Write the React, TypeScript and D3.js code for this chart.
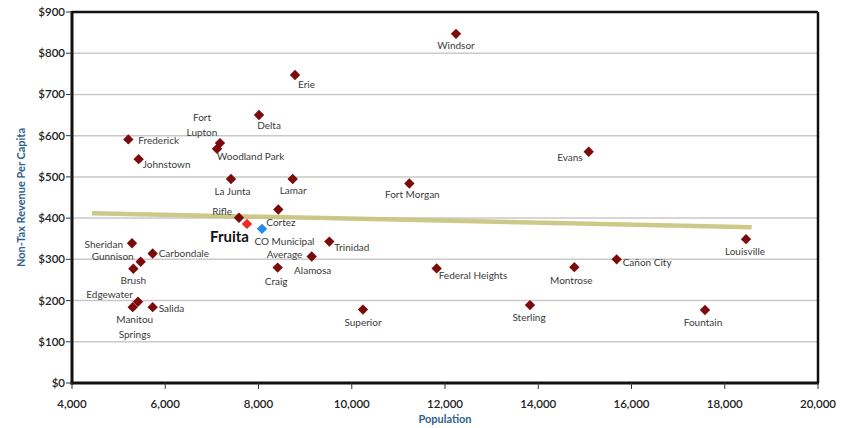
import React from "react";
import * as d3 from "d3";

// ---- data ----
const cities = [
  "Windsor", "Erie", "Delta", "Fort Lupton", "Woodland Park", "Frederick", "Johnstown",
  "La Junta", "Lamar", "Rifle", "Cortez", "Fruita", "CO Municipal Average", "Sheridan",
  "Gunnison", "Carbondale", "Brush", "Edgewater", "Manitou Springs", "Salida", "Trinidad",
  "Alamosa", "Craig", "Superior", "Evans", "Fort Morgan", "Louisville", "Federal Heights",
  "Montrose", "Cañon City", "Sterling", "Fountain",
];
const population = [
  12236, 8783, 8011, 7174, 7110, 5208, 5430,
  7410, 8733, 7582, 8425, 7753, 8075, 5287,
  5473, 5730, 5316, 5415, 5302, 5730, 9519,
  9141, 8411, 10241, 15082, 11235, 18456, 11821,
  14774, 15682, 13823, 17576,
];
const revenue = [
  847, 747, 650, 582, 568, 591, 543,
  495, 495, 401, 421, 386, 374, 339,
  294, 314, 277, 197, 184, 184, 343,
  307, 280, 178, 561, 484, 349, 278,
  281, 300, 189, 177,
];
const trendPopulation = [4429, 18578];
const trendRevenue = [412, 378];
const xTicks = [4000, 6000, 8000, 10000, 12000, 14000, 16000, 18000, 20000];
const yTicks = [0, 100, 200, 300, 400, 500, 600, 700, 800, 900];
const xTitle = "Population";
const yTitle = "Non-Tax Revenue Per Capita";

// ---- label layout (offsets relative to the marker) ----
type Lab = { dx: number; dy: number[]; anchor: string; lines?: string[] };
const labelLayout: Lab[] = [
  { dx: 0, dy: [15.5], anchor: "middle" },
  { dx: 3, dy: [12.5], anchor: "start" },
  { dx: 10, dy: [13.5], anchor: "middle" },
  { dx: -18, dy: [-21.8, -6.8], anchor: "middle", lines: ["Fort", "Lupton"] },
  { dx: 0, dy: [11.5], anchor: "start" },
  { dx: 10, dy: [4.5], anchor: "start" },
  { dx: 4, dy: [8.5], anchor: "start" },
  { dx: 1.5, dy: [16], anchor: "middle" },
  { dx: 0.5, dy: [15], anchor: "middle" },
  { dx: -7, dy: [-2.5], anchor: "end" },
  { dx: -12, dy: [16.5], anchor: "start" },
  { dx: 2, dy: [18], anchor: "end" },
  { dx: 22.5, dy: [16, 29.5], anchor: "middle", lines: ["CO Municipal", "Average"] },
  { dx: -9, dy: [4.5], anchor: "end" },
  { dx: -7, dy: [-1.5], anchor: "end" },
  { dx: 6, dy: [3.5], anchor: "start" },
  { dx: 0, dy: [15], anchor: "middle" },
  { dx: -5, dy: [-4], anchor: "end" },
  { dx: 2, dy: [16, 30.5], anchor: "middle", lines: ["Manitou", "Springs"] },
  { dx: 6, dy: [5], anchor: "start" },
  { dx: 5, dy: [9], anchor: "start" },
  { dx: 1, dy: [18], anchor: "middle" },
  { dx: -1.5, dy: [17], anchor: "middle" },
  { dx: 0, dy: [16], anchor: "middle" },
  { dx: -6, dy: [9], anchor: "end" },
  { dx: 3, dy: [15], anchor: "middle" },
  { dx: -1, dy: [16], anchor: "middle" },
  { dx: 2, dy: [11], anchor: "start" },
  { dx: -3, dy: [17], anchor: "middle" },
  { dx: 6, dy: [7], anchor: "start" },
  { dx: -1, dy: [15.5], anchor: "middle" },
  { dx: -2, dy: [16], anchor: "middle" },
];

const W = 853;
const H = 428;
const left = 72, right = 818, top = 12, bottom = 383;
const FONT = "Lato, 'Open Sans', sans-serif";

export default function App() {
  const x = d3.scaleLinear().domain([4000, 20000]).range([left, right]);
  const y = d3.scaleLinear().domain([0, 900]).range([bottom, top]);
  const diamond = d3.symbol().type(d3.symbolSquare).size(54)();
  const fmtX = d3.format(",");
  const trend = d3.line<number>()
    .x((_, i) => x(trendPopulation[i]))
    .y((d) => y(d))(trendRevenue);

  return (
    <svg width={W} height={H} style={{ position: "absolute", left: 0, top: 0, background: "#fff" }}>
      {/* gridlines */}
      {yTicks.filter((t) => t > 0 && t < 900).map((t) => (
        <line key={"g" + t} x1={left} x2={right} y1={y(t)} y2={y(t)} stroke="#c9c9c9" strokeWidth={1.5} />
      ))}
      {/* trend line */}
      <path d={trend || ""} stroke="#c8c37c" strokeWidth={4.5} fill="none" opacity={0.9} />
      {/* frame */}
      <line x1={left} x2={right} y1={top} y2={top} stroke="#111" strokeWidth={2.5} />
      <line x1={right} x2={right} y1={top} y2={bottom} stroke="#111" strokeWidth={2.5} />
      <line x1={left} x2={left} y1={top - 1} y2={bottom + 1.5} stroke="#111" strokeWidth={3} />
      <line x1={left - 1.5} x2={right + 1} y1={bottom} y2={bottom} stroke="#111" strokeWidth={3} />
      {/* y ticks */}
      {yTicks.map((t) => (
        <g key={"y" + t}>
          <line x1={left - 6} x2={left} y1={y(t)} y2={y(t)} stroke="#333" strokeWidth={1} />
          <text x={left - 7} y={y(t) + 4} textAnchor="end" fontFamily={FONT} fontSize={11.5} fontWeight={600} fill="#222">
            {"$" + t}
          </text>
        </g>
      ))}
      {/* x ticks */}
      {xTicks.map((t) => (
        <g key={"x" + t}>
          <line x1={x(t)} x2={x(t)} y1={bottom} y2={bottom + 6} stroke="#333" strokeWidth={1} />
          <text x={x(t)} y={bottom + 25} textAnchor="middle" fontFamily={FONT} fontSize={11.5} fontWeight={600} fill="#222">
            {fmtX(t)}
          </text>
        </g>
      ))}
      {/* axis titles */}
      <text x={(left + right) / 2} y={423} textAnchor="middle" fontFamily={FONT} fontSize={11} fontWeight="bold" fill="#2f5f8c">
        {xTitle}
      </text>
      <text transform={`translate(25,${(top + bottom) / 2}) rotate(-90)`} textAnchor="middle" fontFamily={FONT} fontSize={11} fontWeight="bold" fill="#2f5f8c">
        {yTitle}
      </text>
      {/* markers */}
      {cities.map((c, i) => {
        const fill = c === "Fruita" ? "#ee2a22" : c === "CO Municipal Average" ? "#2b8be8" : "#7d0a0a";
        return (
          <path key={"m" + c} d={diamond || ""} fill={fill}
            transform={`translate(${x(population[i])},${y(revenue[i])}) rotate(45)`} />
        );
      })}
      {/* labels */}
      {cities.map((c, i) => {
        const L = labelLayout[i];
        const lines = L.lines || [c];
        const px = x(population[i]);
        const py = y(revenue[i]);
        const bold = c === "Fruita";
        return lines.map((ln, j) => (
          <text key={"l" + c + j} x={px + L.dx} y={py + L.dy[j]} textAnchor={L.anchor as any}
            fontFamily={FONT}
            fontSize={bold ? 15 : 10} fontWeight={bold ? "bold" : "normal"}
            fill={bold ? "#111" : "#3a3a3a"}>
            {ln}
          </text>
        ));
      })}
    </svg>
  );
}
